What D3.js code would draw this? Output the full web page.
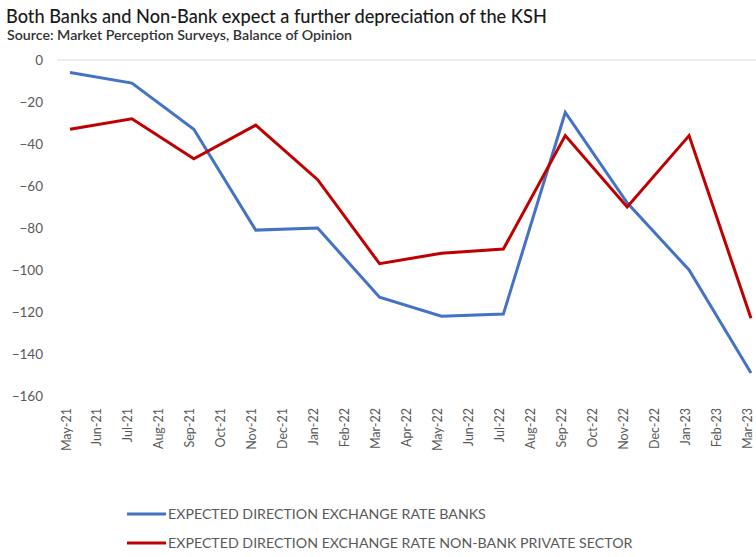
<!DOCTYPE html>
<html>
<head>
<meta charset="utf-8">
<script src="https://cdnjs.cloudflare.com/ajax/libs/d3/7.8.5/d3.min.js"></script>
<style>
  html, body { margin: 0; padding: 0; background: #fff; }
  svg { display: block; font-family: Lato, "Open Sans", "Liberation Sans", sans-serif; }
</style>
</head>
<body>
<svg id="chart" width="756" height="557"></svg>
<script>
// Monthly categories on the x axis
const months = ["May-21","Jun-21","Jul-21","Aug-21","Sep-21","Oct-21","Nov-21","Dec-21",
  "Jan-22","Feb-22","Mar-22","Apr-22","May-22","Jun-22","Jul-22","Aug-22","Sep-22",
  "Oct-22","Nov-22","Dec-22","Jan-23","Feb-23","Mar-23"];

// Survey rounds (every second month)
const surveyMonths = ["May-21","Jul-21","Sep-21","Nov-21","Jan-22","Mar-22","May-22",
  "Jul-22","Sep-22","Nov-22","Jan-23","Mar-23"];

// Balance of opinion, banks
const banks = [-6, -11, -33, -81, -80, -113, -122, -121, -25, -68, -100, -149];

// Balance of opinion, non-bank private sector
const nonBank = [-33, -28, -47, -31, -57, -97, -92, -90, -36, -70, -36, -123];

const yTicks = [0, -20, -40, -60, -80, -100, -120, -140, -160];

const seriesNames = ["EXPECTED DIRECTION EXCHANGE RATE BANKS",
  "EXPECTED DIRECTION EXCHANGE RATE NON-BANK PRIVATE SECTOR"];
const seriesColors = ["#4472C4", "#C00000"];

const svg = d3.select("#chart");

// Title and source line
svg.append("text").attr("x", 6).attr("y", 23)
  .attr("font-size", 18.2).attr("fill", "#1a1a1a").attr("font-weight", 500)
  .text("Both Banks and Non-Bank expect a further depreciation of the KSH");
svg.append("text").attr("x", 7).attr("y", 40)
  .attr("font-size", 14.2).attr("fill", "#333").attr("font-weight", 600)
  .text("Source: Market Perception Surveys, Balance of Opinion");

const x = d3.scalePoint().domain(months).range([70, 751]);
const y = d3.scaleLinear().domain([-160, 0]).range([396, 60]);

// Zero gridline
svg.append("line")
  .attr("x1", 57).attr("x2", 756)
  .attr("y1", y(0)).attr("y2", y(0))
  .attr("stroke", "#d9d9d9").attr("stroke-width", 1);

// Y axis labels
const yAxis = d3.axisLeft(y).tickValues(yTicks).tickSize(0).tickPadding(0)
  .tickFormat(d3.format("d"));
const gy = svg.append("g").attr("transform", "translate(43,0)").call(yAxis);
gy.select(".domain").remove();
gy.selectAll("text").attr("font-size", 13.5).attr("fill", "#595959")
  .attr("font-family", "Lato, 'Open Sans', sans-serif");

// X axis labels, rotated, baseline on the category position
const xAxis = d3.axisBottom(x).tickSize(0).tickPadding(0);
const gx = svg.append("g").attr("transform", "translate(0,408)").call(xAxis);
gx.select(".domain").remove();
gx.selectAll("text")
  .attr("font-size", 12.5).attr("fill", "#595959")
  .attr("font-family", "Lato, 'Open Sans', sans-serif")
  .attr("transform", "rotate(-90)")
  .attr("text-anchor", "end")
  .attr("x", 0).attr("y", 0).attr("dy", "0em");

// Series lines
const line = d3.line()
  .x((d, i) => x(surveyMonths[i]))
  .y(d => y(d));

[banks, nonBank].forEach((vals, k) => {
  svg.append("path")
    .datum(vals)
    .attr("d", line)
    .attr("fill", "none")
    .attr("stroke", seriesColors[k])
    .attr("stroke-width", 3)
    .attr("stroke-linejoin", "miter");
});

// Legend
const legend = svg.append("g");
seriesNames.forEach((name, k) => {
  const ly = 514 + k * 29;
  legend.append("line")
    .attr("x1", 127).attr("x2", 166).attr("y1", ly).attr("y2", ly)
    .attr("stroke", seriesColors[k]).attr("stroke-width", 3);
  legend.append("text")
    .attr("x", 168).attr("y", ly).attr("dy", "0.36em")
    .attr("font-size", 14.2).attr("fill", "#595959")
    .text(name);
});
</script>
</body>
</html>
